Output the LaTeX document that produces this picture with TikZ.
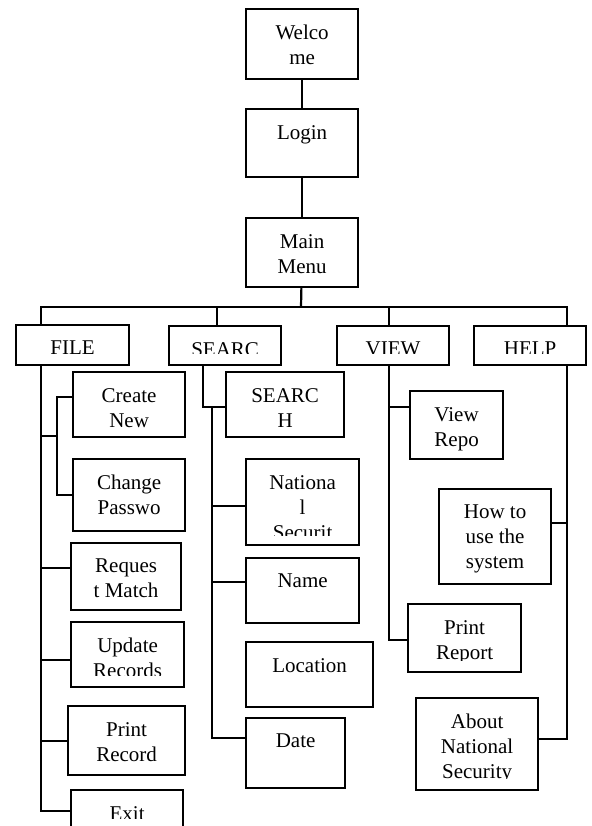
\documentclass[tikz,border=0pt]{standalone}
\usepackage{fontspec}
\setmainfont{Liberation Serif}

% box with its text clipped to the inner margin ([#1] = bottom margin)
\newcommand{\chartbox}[7][4]{%
  \node [box, minimum width=#5pt, minimum height=#6pt] (#2) at (#3,-#4) {};
  \begin{scope}
    \clip ([xshift=7pt,yshift=-3pt]#2.north west) rectangle ([xshift=-7pt,yshift=#1pt]#2.south east);
    \node [boxlabel] at ([yshift=-17pt]#2.north) {#7};
  \end{scope}}

\begin{document}
\begin{tikzpicture}[x=1pt, y=1pt,
    box/.style={draw, line width=2.2pt, inner sep=0pt, anchor=north west},
    boxlabel/.style={anchor=north, align=center, inner sep=0pt, font=\fontsize{21}{25}\selectfont},
    link/.style={line width=2.2pt}]
  \clip (0,0) rectangle (591,-826);

  \chartbox{welcome}{245}{8}{112}{70}{Welco\\me} % Draws a rectangle
  \chartbox{login}{245}{108}{112}{68}{Login} % Draws a rectangle
  \chartbox{menu}{245}{217}{112}{69}{Main\\Menu} % Draws a rectangle

  \chartbox[13]{file}{15}{324}{113}{40}{FILE} % Draws a rectangle
  \chartbox[13]{searc}{168}{325}{112}{39}{SEARC} % Draws a rectangle
  \chartbox[13]{view}{336}{325}{112}{39}{VIEW} % Draws a rectangle
  \chartbox[13]{help}{473}{325}{112}{39}{HELP} % Draws a rectangle

  \chartbox{create}{72}{371}{112}{65}{Create\\New}
  \chartbox{change}{72}{458}{112}{72}{Change\\Passwo}
  \chartbox{request}{70}{542}{110}{67}{Reques\\t Match}
  \chartbox[12.5]{update}{70}{621}{113}{65}{Update\\Records}
  \chartbox{printrec}{67}{705}{117}{69}{Print\\Record}
  \chartbox[15]{exit}{70}{789}{112}{42}{Exit}

  \chartbox{searchh}{225}{371}{118}{65}{SEARC\\H}
  \chartbox[11]{national}{245}{458}{113}{86}{Nationa\\l\\Securit}
  \chartbox{name}{245}{557}{113}{65}{Name}
  \chartbox{location}{245}{641}{127}{65}{Location}
  \chartbox{date}{245}{717}{99}{70}{Date}

  \chartbox{viewrepo}{409}{390}{93}{68}{View\\Repo}
  \chartbox[13]{printrep}{407}{603}{113}{68}{Print\\Report}

  \chartbox{howto}{438}{488}{112}{95}{How to\\use the\\system}
  \chartbox[13]{about}{415}{697}{122}{92}{About\\National\\Security}

  \coordinate (bus) at (301,-307);
  \coordinate (fdrop) at (41,-307);
  \coordinate (sdrop) at (217,-307);
  \coordinate (vdrop) at (389,-307);
  \coordinate (hdrop) at (567,-307);

  \draw [link] (welcome) -- (login);
  \draw [link] (login) -- (menu);
  \draw [link] (menu) -- (bus);
  \draw [link] (fdrop |- file.north) -- (fdrop) -- (hdrop) -- (hdrop |- help.north);
  \draw [link] (sdrop) -- (sdrop |- searc.north);
  \draw [link] (vdrop) -- (vdrop |- view.north);

  % FILE
  \coordinate (fbr) at (57,-397);
  \draw [link] (fdrop |- file.south) -- (fdrop |- exit.west) -- (exit.west);
  \draw [link] (create.west |- fbr) -- (fbr) -- (fbr |- change.west) -- (change.west);
  \draw [link] (fdrop |- 0,-436) -- (fbr |- 0,-436);
  \draw [link] (fdrop |- 0,-568) -- (request.west |- 0,-568);
  \draw [link] (fdrop |- 0,-660) -- (update.west |- 0,-660);
  \draw [link] (fdrop |- printrec.west) -- (printrec.west);

  % SEARC
  \coordinate (sbend) at (203,-407);
  \coordinate (strunk) at (212,-407);
  \draw [link] (sbend |- searc.south) -- (sbend) -- (searchh.west |- sbend);
  \draw [link] (strunk) -- (strunk |- 0,-738) -- (date.west |- 0,-738);
  \draw [link] (strunk |- 0,-506) -- (national.west |- 0,-506);
  \draw [link] (strunk |- 0,-582) -- (name.west |- 0,-582);

  % VIEW
  \draw [link] (vdrop |- view.south) -- (vdrop |- 0,-640) -- (printrep.west |- 0,-640);
  \draw [link] (vdrop |- 0,-407) -- (viewrepo.west |- 0,-407);

  % HELP
  \draw [link] (hdrop |- help.south) -- (hdrop |- 0,-739) -- (about.east |- 0,-739);
  \draw [link] (hdrop |- 0,-523) -- (howto.east |- 0,-523);
\end{tikzpicture}
\end{document}
